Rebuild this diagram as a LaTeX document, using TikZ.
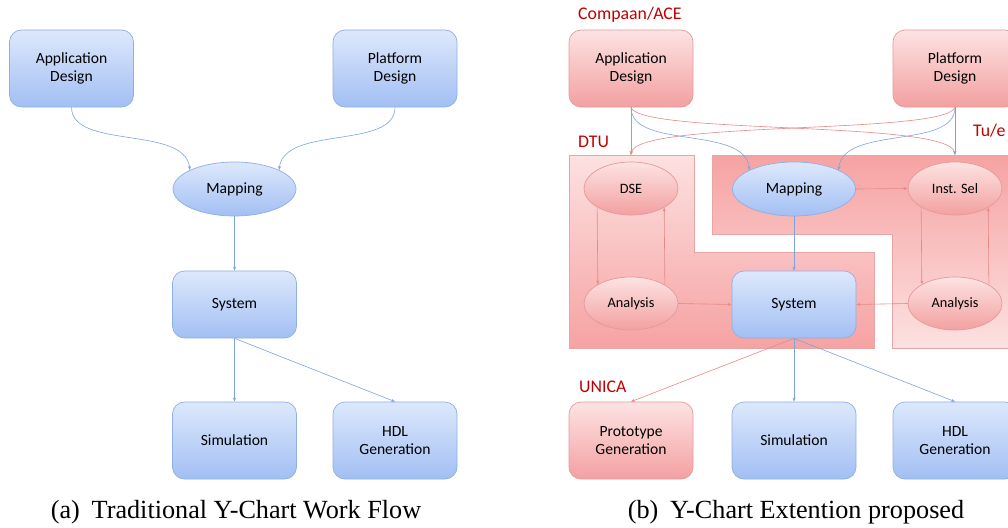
\documentclass[tikz,border=0pt]{standalone}
\usepackage{fontspec}
\setmainfont{Carlito}
\newfontfamily\capfont{Liberation Serif}
\usepackage{tikz}
\usetikzlibrary{shapes.geometric,arrows.meta}

\definecolor{bluetop}{HTML}{DDE8FC}
\definecolor{bluebot}{HTML}{A2BFF3}
\definecolor{blueline}{HTML}{8FAFE3}
\definecolor{redtop}{HTML}{FDE3E3}
\definecolor{redbot}{HTML}{F3A0A0}
\definecolor{redline}{HTML}{E49A9A}
\definecolor{bluearrow}{HTML}{7DA4DE}
\definecolor{redarrow}{HTML}{E58888}
\definecolor{labelred}{HTML}{C00000}
\definecolor{zonelight}{HTML}{FDE1E1}
\definecolor{zonedark}{HTML}{F6A2A2}
\definecolor{zoneline}{HTML}{E6A6A6}

\tikzset{
  bluebox/.style={rectangle, rounded corners=12pt, draw=blueline, line width=0.7pt,
    top color=bluetop, bottom color=bluebot, minimum width=124pt, minimum height=77pt,
    align=center, font=\fontsize{15.6}{18.5}\selectfont},
  redbox/.style={bluebox, draw=redline, top color=redtop, bottom color=redbot},
  blueell/.style={ellipse, draw=blueline, line width=0.7pt, top color=bluetop,
    bottom color=bluebot, minimum width=123pt, minimum height=54pt, inner sep=0pt,
    font=\fontsize{15.6}{18}\selectfont},
  redell/.style={ellipse, draw=redline, line width=0.7pt, top color=redtop,
    bottom color=redbot, minimum width=94pt, minimum height=53pt, inner sep=0pt,
    font=\fontsize{14.3}{17}\selectfont},
  blueflow/.style={draw=bluearrow, line width=0.6pt, -{Stealth[length=4pt,width=3pt]}},
  redflow/.style={draw=redarrow, line width=0.6pt, -{Stealth[length=4pt,width=3pt]}},
  zone/.style={draw=zoneline, line width=0.7pt},
  grouplabel/.style={text=labelred, anchor=west, inner sep=0pt, font=\fontsize{17.8}{20}\selectfont},
  subcap/.style={inner sep=0pt, font=\capfont\fontsize{26.2}{30}\selectfont}
}

\begin{document}
\begin{tikzpicture}[x=1pt,y=-1pt]
\useasboundingbox (0,0) rectangle (1008,527);
\clip (0,0) rectangle (1008,527);

% (a)
\node[bluebox] (app) at (71.5,68.5) {Application\\Design};
\node[bluebox] (plat) at (395,68.5) {Platform\\Design};
\node[blueell] (map) at (234.5,189) {Mapping};
\node[bluebox, minimum height=67pt] (sys) at (234.5,304.5) {System};
\node[bluebox] (sim) at (234.5,440.5) {Simulation};
\node[bluebox] (hdl) at (395,440.5) {HDL\\Generation};

\draw[blueflow] (app.south) .. controls (72,150) and (185,125) .. (map.157);
\draw[blueflow] (plat.south) .. controls (395,150) and (284,125) .. (map.23);
\draw[blueflow] (map.south) -- (sys.north);
\draw[blueflow] (sys.south) -- (sim.north);
\draw[blueflow] (sys.south) -- (hdl.north);

\node[subcap] (capa) at (236,512) {(a)\hspace{0.45em}Traditional Y-Chart Work Flow};

% (b)
\draw[zone, top color=zonelight, bottom color=zonedark]
  (569,155) -- (694,155) -- (694,252) -- (874,252) -- (874,348) -- (569,348) -- cycle;
\draw[zone, top color=zonedark, bottom color=zonelight]
  (712,155) -- (1020,155) -- (1020,348) -- (892,348) -- (892,234) -- (712,234) -- cycle;

\node[grouplabel] (compaan) at (578,15) {Compaan/ACE};
\node[grouplabel] (dtu) at (578,142) {DTU};
\node[grouplabel] (tue) at (973,131) {Tu/e};
\node[grouplabel] (unica) at (579,387) {UNICA};

\node[redbox] (rapp) at (631,68.5) {Application\\Design};
\node[redbox] (rplat) at (955,68.5) {Platform\\Design};
\node[redell] (dse) at (631,188.5) {DSE};
\node[blueell] (rmap) at (794,189) {Mapping};
\node[redell] (isel) at (955,188.5) {Inst. Sel};
\node[redell] (lana) at (631,303.5) {Analysis};
\node[bluebox, minimum height=67pt] (rsys) at (794,304.5) {System};
\node[redell] (rana) at (955,303.5) {Analysis};
\node[redbox] (proto) at (631,440.5) {Prototype\\Generation};
\node[bluebox] (rsim) at (794,440.5) {Simulation};
\node[bluebox] (rhdl) at (955,440.5) {HDL\\Generation};

\coordinate (dsein) at (631,155);
\coordinate (iselin) at (955,155);

\draw[redflow] (rapp.south) -- (dsein);
\draw[blueflow] (rapp.south) .. controls (631,150) and (745,125) .. (rmap.157);
\draw[redflow] (rapp.south) .. controls (640,135) and (950,120) .. (iselin);
\draw[redflow] (rplat.south) .. controls (946,135) and (636,120) .. (dsein);
\draw[blueflow] (rplat.south) .. controls (955,150) and (843,125) .. (rmap.23);
\draw[blueflow] (rplat.south) -- (iselin);

\draw[redflow] (rmap.east) -- (isel.west);
\draw[redflow] (dse.209.5) -- (lana.150.5);
\draw[redflow] (lana.29.5) -- (dse.330.5);
\draw[redflow] (isel.209.5) -- (rana.150.5);
\draw[redflow] (rana.29.5) -- (isel.330.5);
\draw[redflow] (lana.east) -- (rsys.west);
\draw[redflow] (rana.west) -- (rsys.east);
\draw[blueflow] (rmap.south) -- (rsys.north);

\draw[redflow] (rsys.south) -- (proto.north);
\draw[blueflow] (rsys.south) -- (rsim.north);
\draw[blueflow] (rsys.south) -- (rhdl.north);

\node[subcap] (capb) at (796,512) {(b)\hspace{0.45em}Y-Chart Extention proposed};
\end{tikzpicture}
\end{document}
